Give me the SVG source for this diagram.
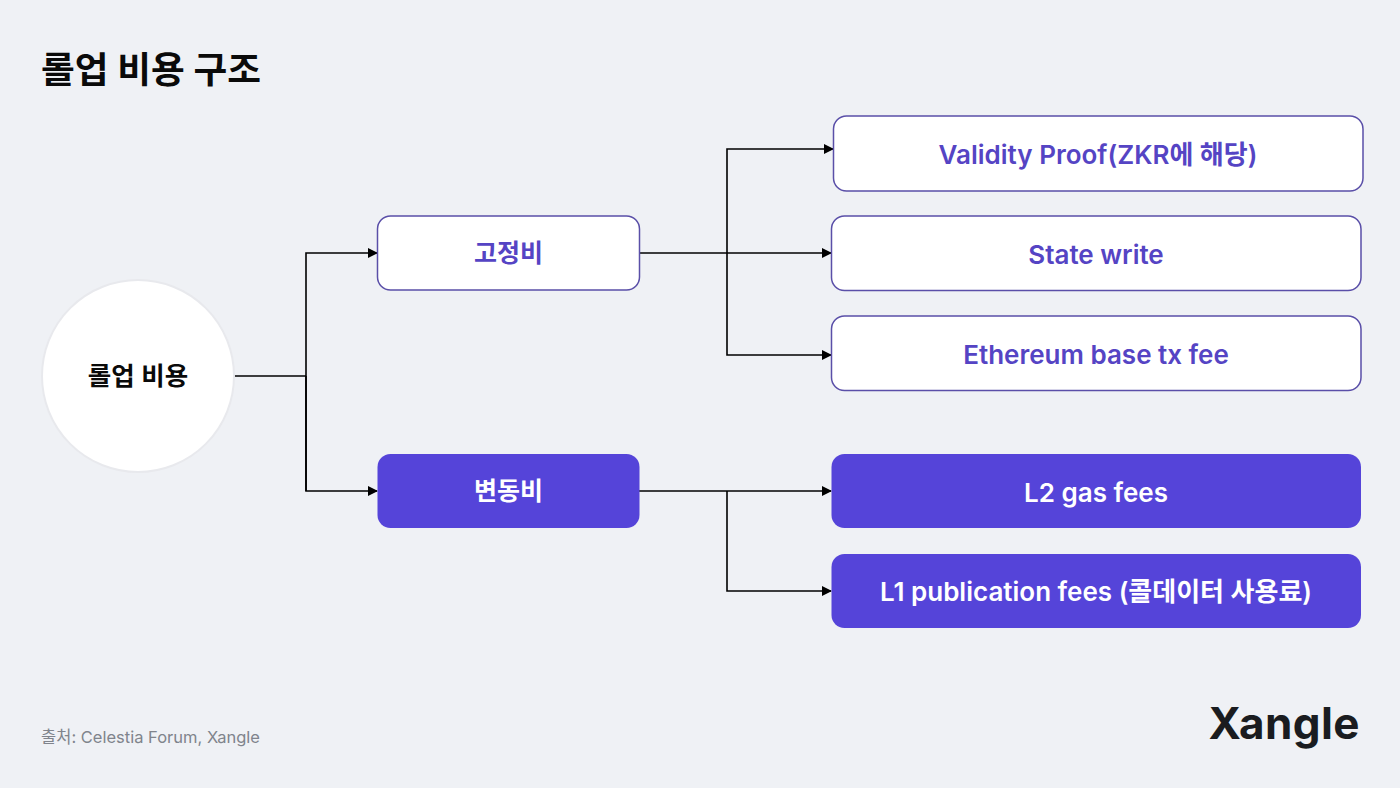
<svg xmlns="http://www.w3.org/2000/svg" width="1400" height="788" viewBox="0 0 1400 788">
<style>
text{font-family:"Inter","Noto Sans CJK KR",sans-serif;text-anchor:middle}
.o{fill:#fff;stroke:#5a4fa8;stroke-width:1.5}
.f{fill:#5544d9}
.p{fill:#5544c4;font-size:26px;font-weight:600}
.w{fill:#fff;font-size:26px;font-weight:600}
.k{font-size:25px}
.c{fill:none;stroke:#000;stroke-width:1.6}
</style>
<defs><marker id="a" markerUnits="userSpaceOnUse" markerWidth="10" markerHeight="10" refX="9" refY="5" orient="auto"><path d="M0 0L10 5L0 10Z" fill="#000"/></marker></defs>
<rect width="1400" height="788" fill="#eff1f5"/>
<text x="151" y="83" style="font-size:36.7px;font-weight:700" fill="#0a0a0a">롤업 비용 구조</text>
<g id="connectors">
<path class="c" d="M234 376H306"/>
<path class="c" d="M306 491V253H377" marker-end="url(#a)"/>
<path class="c" d="M306 376V491H377" marker-end="url(#a)"/>
<path class="c" d="M639 253H831" marker-end="url(#a)"/>
<path class="c" d="M727 253V149H833" marker-end="url(#a)"/>
<path class="c" d="M727 253V355H831" marker-end="url(#a)"/>
<path class="c" d="M639 491H831" marker-end="url(#a)"/>
<path class="c" d="M727 491V591H831" marker-end="url(#a)"/>
</g>
<g id="root"><circle cx="138" cy="376" r="96" fill="#fff" stroke="#e8e9ed" stroke-width="2"/><text x="138" y="385" style="font-size:25.500px;font-weight:600" fill="#0a0a0a">롤업 비용</text></g>
<g id="fixed"><rect class="o" x="377.500" y="216" width="262" height="74" rx="13"/><text class="p k" x="508.500" y="262">고정비</text></g>
<g id="variable"><rect class="f" x="377.500" y="454" width="262" height="74" rx="13"/><text class="w k" x="508.500" y="500">변동비</text></g>
<g id="validity"><rect class="o" x="833.500" y="116" width="529.500" height="75" rx="13"/><text class="p" x="1098" y="164">Validity Proof(ZKR에 해당)</text></g>
<g id="state"><rect class="o" x="831.500" y="216" width="529.500" height="74.500" rx="13"/><text class="p" x="1096" y="264">State write</text></g>
<g id="base"><rect class="o" x="831.500" y="316" width="529.500" height="74.500" rx="13"/><text class="p" x="1096" y="364">Ethereum base tx fee</text></g>
<g id="l2"><rect class="f" x="831.500" y="454" width="529.500" height="74" rx="13"/><text class="w" x="1096" y="502">L2 gas fees</text></g>
<g id="l1"><rect class="f" x="831.500" y="554" width="529.500" height="74" rx="13"/><text class="w" x="1096" y="601">L1 publication fees (콜데이터 사용료)</text></g>
<text x="150.500" y="742.500" style="font-size:16.500px" fill="#80848c">출처: Celestia Forum, Xangle</text>
<text x="1284" y="739" style="font-size:44px;font-weight:700" textLength="151" lengthAdjust="spacing" fill="#1a1c20">Xangle</text>
</svg>
